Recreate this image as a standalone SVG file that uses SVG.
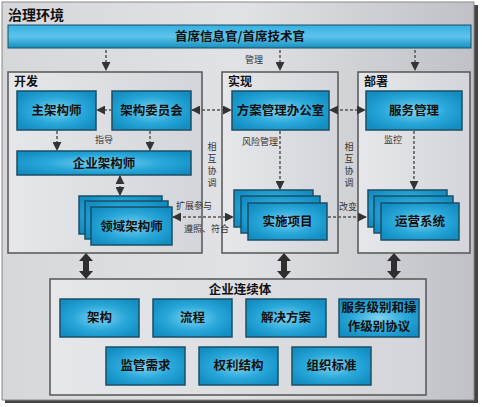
<svg xmlns="http://www.w3.org/2000/svg" width="482" height="407" viewBox="0 0 482 407">
<defs>
<linearGradient id="bg" x1="0" y1="0" x2="1" y2="0">
<stop offset="0" stop-color="#d6d7db"/><stop offset="0.5" stop-color="#e1e2e5"/><stop offset="1" stop-color="#c0c1c6"/>
</linearGradient>
<linearGradient id="pan" x1="0" y1="0" x2="1" y2="0">
<stop offset="0" stop-color="#e6e7ea"/><stop offset="1" stop-color="#d4d5da"/>
</linearGradient>
<radialGradient id="blue" cx="0.5" cy="0.5" r="0.6">
<stop offset="0" stop-color="#7fd3f0"/><stop offset="0.55" stop-color="#2aa8da"/><stop offset="1" stop-color="#128ec2"/>
</radialGradient>
<linearGradient id="bar" x1="0" y1="0" x2="0" y2="1">
<stop offset="0" stop-color="#34b0e0"/><stop offset="0.5" stop-color="#5cc4ec"/><stop offset="1" stop-color="#1890c0"/>
</linearGradient>
<marker id="ah" viewBox="0 0 10 10" refX="9" refY="5" markerWidth="6" markerHeight="6" orient="auto-start-reverse">
<path d="M0,0 L10,5 L0,10 Z" fill="#333"/>
</marker>
</defs>
<style>
.n{fill:url(#blue);stroke:#1d4e66;stroke-width:1.5}
.p{fill:url(#pan);stroke:#555;stroke-width:1.5}
.t{font-family:"Noto Sans CJK SC","Noto Sans CJK TC",sans-serif;font-weight:bold;fill:#111}
.nt{font-size:12.5px;text-anchor:middle}
.lb{font-family:"Noto Sans CJK SC",sans-serif;font-size:9px;fill:#333}
.d{stroke:#555;stroke-width:1.5;stroke-dasharray:3,2;fill:none}
.big{fill:#2e2e2e}
</style>
<g id="frame">
<rect x="5" y="5" width="473" height="398" fill="#444"/>
<rect x="2" y="2" width="472" height="398" fill="url(#bg)" stroke="#888" stroke-width="1"/>
<text x="8" y="20" class="t" font-size="14">治理环境</text>
</g>
<g id="cio">
<rect x="8" y="25" width="463" height="23" fill="url(#bar)" stroke="#1d4e66" stroke-width="1"/>
<text x="240" y="41" class="t nt" font-size="12">首席信息官/首席技术官</text>
</g>
<g id="dev">
<rect x="8" y="72" width="194" height="181" class="p"/>
<text x="14" y="86" class="t" font-size="12">开发</text>
</g>
<g id="impl">
<rect x="222" y="72" width="116" height="181" class="p"/>
<text x="228" y="86" class="t" font-size="12">实现</text>
</g>
<g id="deploy">
<rect x="358" y="72" width="112" height="181" class="p"/>
<text x="364" y="86" class="t" font-size="12">部署</text>
</g>
<g id="continuum">
<rect x="50" y="279" width="376" height="116" class="p"/>
<text x="240" y="294" class="t nt" font-size="13">企业连续体</text>
</g>
<g id="chief-architect"><rect x="17" y="91" width="79" height="39" class="n"/><text x="56.5" y="115" class="t nt">主架构师</text></g>
<g id="board"><rect x="112" y="91" width="79" height="39" class="n"/><text x="151.5" y="115" class="t nt">架构委员会</text></g>
<g id="pmo"><rect x="232" y="91" width="97" height="39" class="n"/><text x="280.5" y="115" class="t nt">方案管理办公室</text></g>
<g id="service-mgmt"><rect x="366" y="91" width="96" height="39" class="n"/><text x="414" y="115" class="t nt">服务管理</text></g>
<g id="enterprise-architect"><rect x="17" y="151" width="174" height="24" class="n"/><text x="104" y="168" class="t nt">企业架构师</text></g>
<g id="domain-architect">
<rect x="79" y="196" width="83" height="38" class="n"/>
<rect x="85" y="201" width="83" height="38" class="n"/>
<rect x="91" y="207" width="81" height="38" class="n"/>
<text x="131.5" y="231" class="t nt">领域架构师</text>
</g>
<g id="projects">
<rect x="234" y="190" width="79" height="37" class="n"/>
<rect x="241" y="196" width="79" height="37" class="n"/>
<rect x="248" y="203" width="79" height="37" class="n"/>
<text x="287.5" y="226" class="t nt">实施项目</text>
</g>
<g id="ops">
<rect x="368" y="190" width="79" height="37" class="n"/>
<rect x="374" y="196" width="79" height="37" class="n"/>
<rect x="381" y="203" width="78" height="37" class="n"/>
<text x="420" y="226" class="t nt">运营系统</text>
</g>
<g id="c-arch"><rect x="60" y="299" width="79" height="38" class="n"/><text x="99.5" y="322" class="t nt">架构</text></g>
<g id="c-proc"><rect x="153" y="299" width="79" height="38" class="n"/><text x="192.5" y="322" class="t nt">流程</text></g>
<g id="c-sol"><rect x="246" y="299" width="80" height="38" class="n"/><text x="286" y="322" class="t nt">解决方案</text></g>
<g id="c-sla"><rect x="339" y="299" width="80" height="38" class="n"/><text x="379" y="312" class="t nt" font-size="10">服务级别和操</text><text x="379" y="331" class="t nt" font-size="10">作级别协议</text></g>
<g id="c-reg"><rect x="106" y="347" width="79" height="38" class="n"/><text x="145.5" y="370" class="t nt">监管需求</text></g>
<g id="c-rights"><rect x="199" y="347" width="79" height="38" class="n"/><text x="238.5" y="370" class="t nt">权利结构</text></g>
<g id="c-org"><rect x="292" y="347" width="79" height="38" class="n"/><text x="331.5" y="370" class="t nt">组织标准</text></g>
<g id="connectors">
<line x1="106" y1="50" x2="106" y2="70" class="d" marker-end="url(#ah)"/>
<line x1="280" y1="50" x2="280" y2="70" class="d" marker-end="url(#ah)"/>
<line x1="415" y1="50" x2="415" y2="70" class="d" marker-end="url(#ah)"/>
<line x1="112" y1="110" x2="97" y2="110" class="d" marker-end="url(#ah)"/>
<line x1="192" y1="110" x2="231" y2="110" class="d" marker-start="url(#ah)" marker-end="url(#ah)"/>
<line x1="330" y1="110" x2="365" y2="110" class="d" marker-start="url(#ah)" marker-end="url(#ah)"/>
<line x1="57" y1="131" x2="57" y2="150" class="d" marker-end="url(#ah)"/>
<line x1="150" y1="131" x2="150" y2="150" class="d" marker-end="url(#ah)"/>
<line x1="120" y1="176" x2="120" y2="195" class="d" marker-start="url(#ah)" marker-end="url(#ah)"/>
<line x1="173" y1="217" x2="233" y2="217" class="d" marker-start="url(#ah)" marker-end="url(#ah)"/>
<line x1="280" y1="131" x2="280" y2="189" class="d" marker-end="url(#ah)"/>
<line x1="414" y1="131" x2="414" y2="189" class="d" marker-end="url(#ah)"/>
<line x1="328" y1="217" x2="366" y2="217" class="d" marker-end="url(#ah)"/>
<polygon class="big" points="86,253 93,261 89,261 89,271 93,271 86,279 79,271 83,271 83,261 79,261"/>
<polygon class="big" points="284,253 291,261 287,261 287,271 291,271 284,279 277,271 281,271 281,261 277,261"/>
<polygon class="big" points="394,253 401,261 397,261 397,271 401,271 394,279 387,271 391,271 391,261 387,261"/>
<text x="245" y="63" class="lb">管理</text>
<text x="95" y="143" class="lb">指导</text>
<text x="242" y="145" class="lb">风险管理</text>
<text x="384" y="143" class="lb">监控</text>
<text x="176" y="209" class="lb">扩展参与</text>
<text x="184" y="232" class="lb">遵照、符合</text>
<text x="339" y="210" class="lb">改变</text>
<text class="lb" text-anchor="middle"><tspan x="212" y="150">相</tspan><tspan x="212" y="162">互</tspan><tspan x="212" y="174">协</tspan><tspan x="212" y="186">调</tspan></text>
<text class="lb" text-anchor="middle"><tspan x="349" y="150">相</tspan><tspan x="349" y="162">互</tspan><tspan x="349" y="174">协</tspan><tspan x="349" y="186">调</tspan></text>
</g>
</svg>
